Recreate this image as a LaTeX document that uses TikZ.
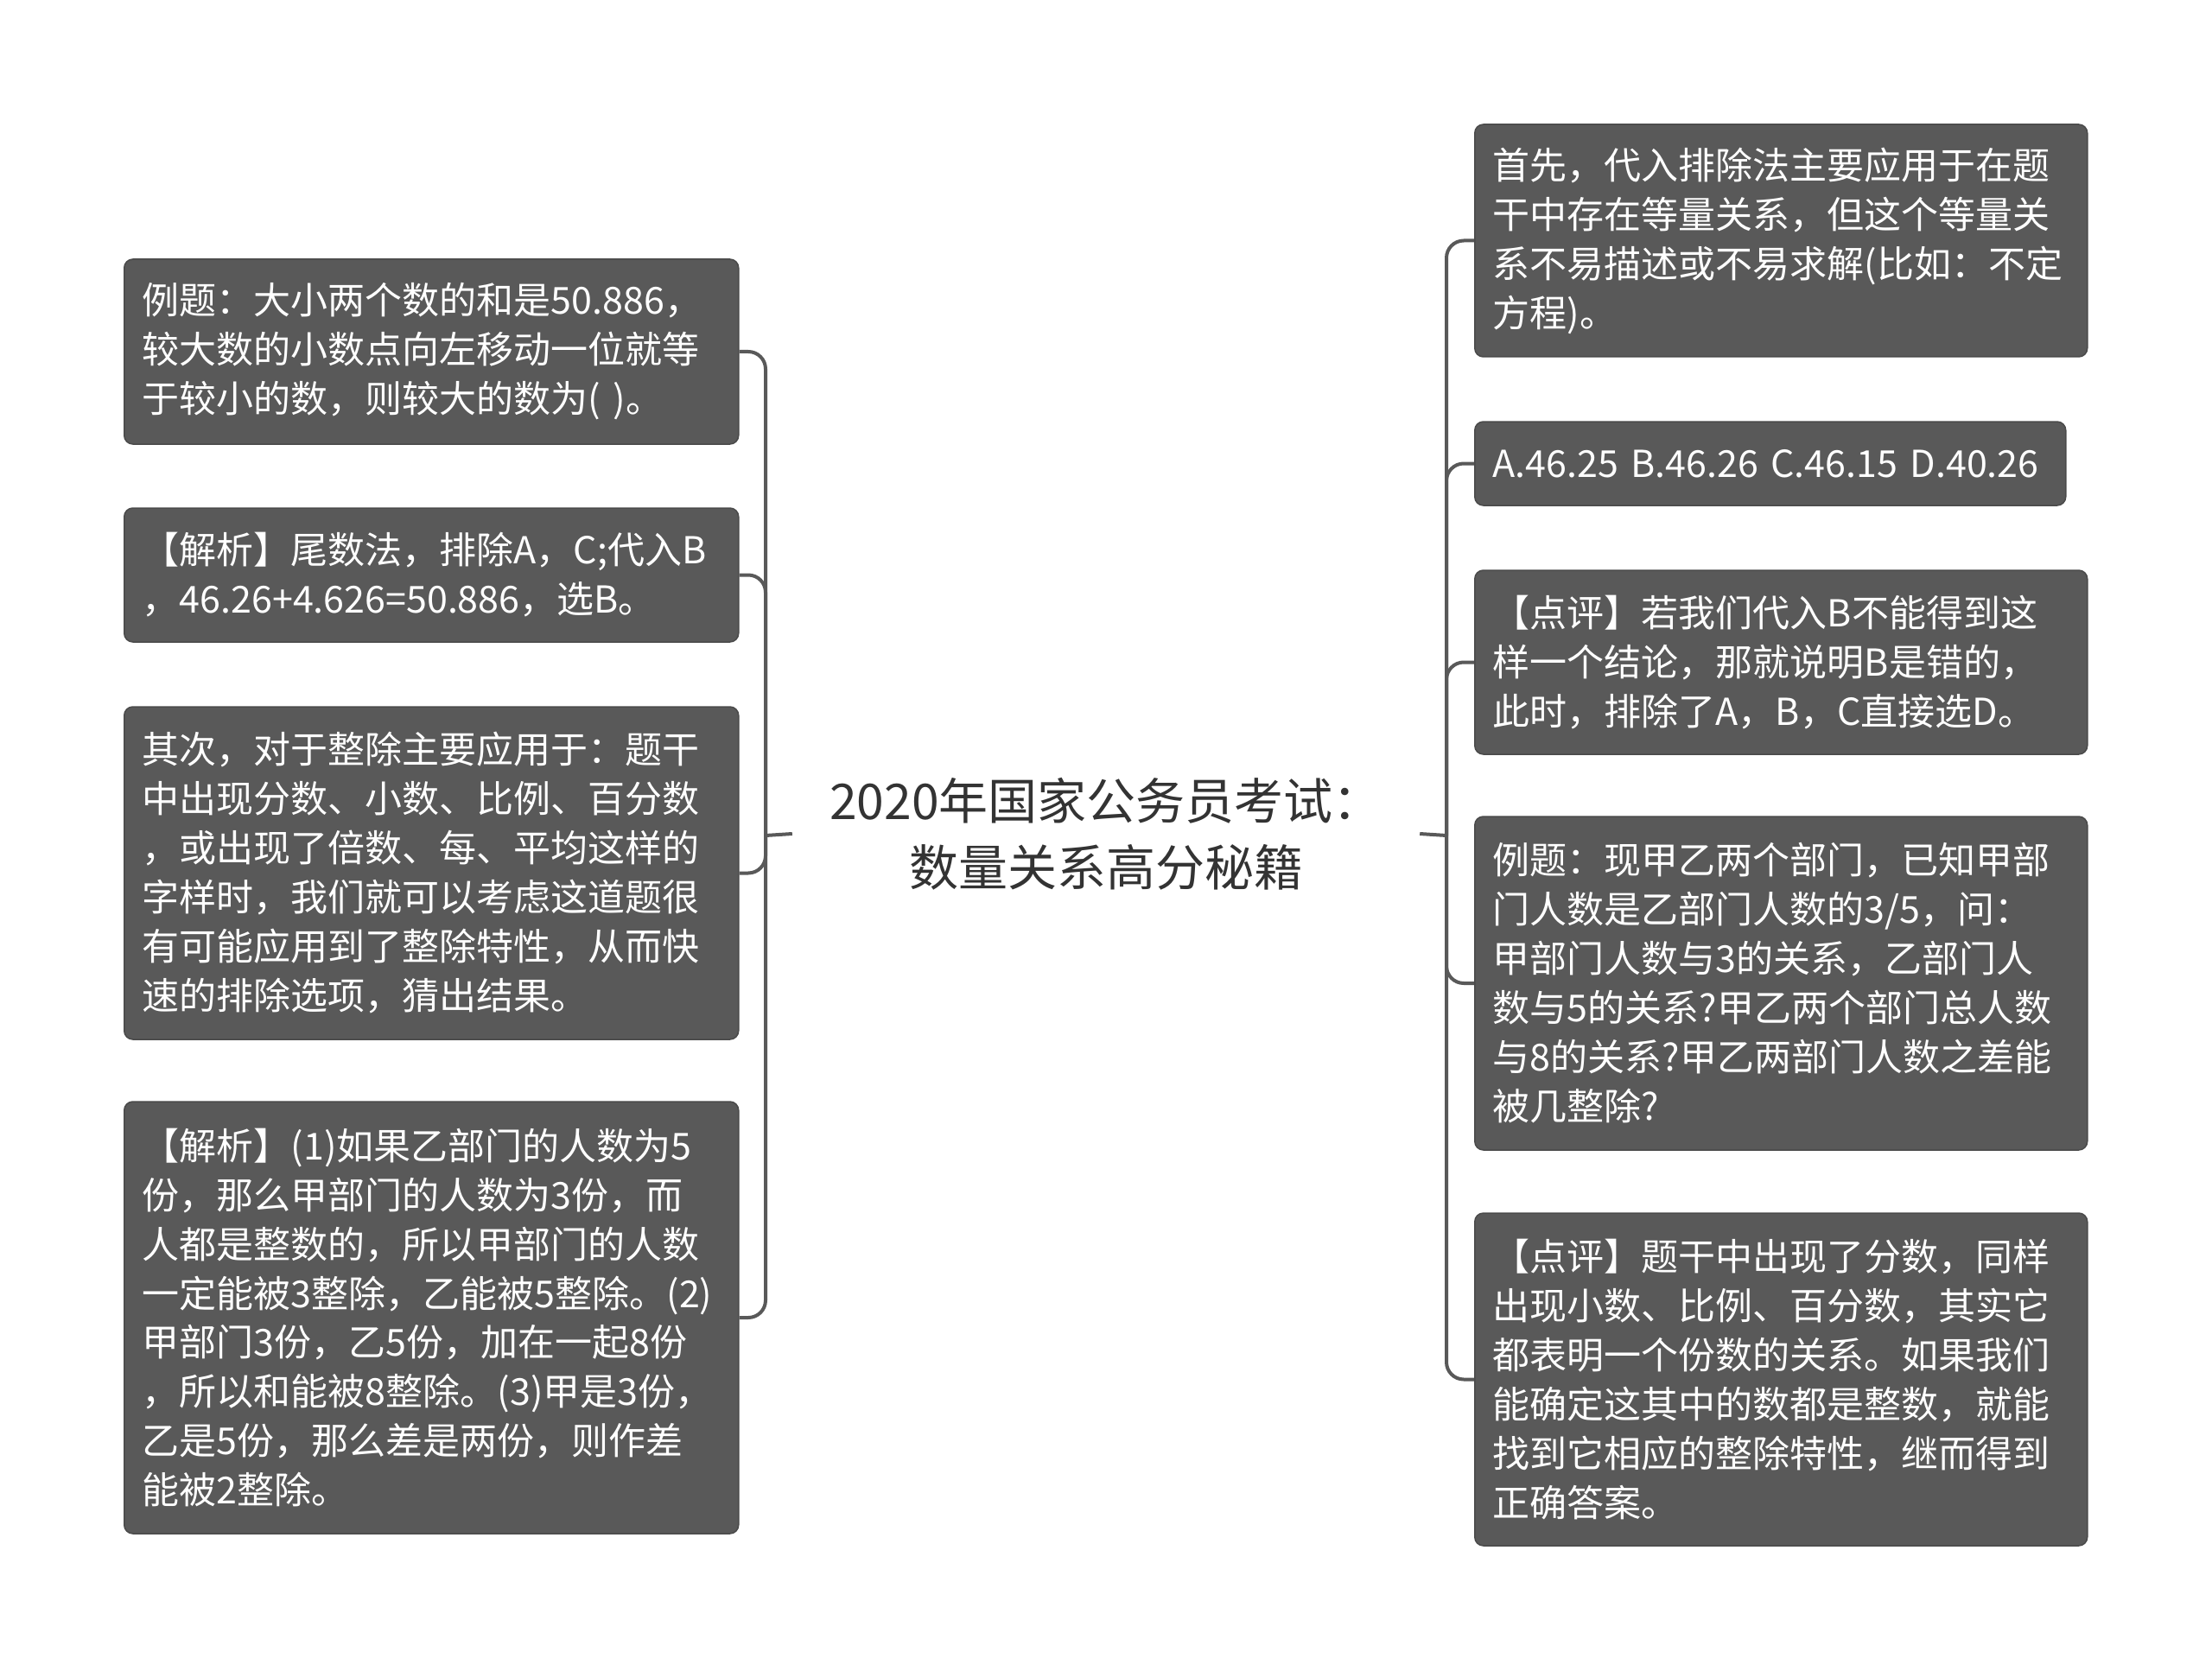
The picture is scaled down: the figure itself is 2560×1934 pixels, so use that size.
\documentclass[tikz,border=0pt]{standalone}
\usepackage{fontspec}
\setmainfont{Noto Sans CJK SC}
\definecolor{boxfill}{HTML}{595959}
\definecolor{boxedge}{HTML}{4A4A4A}
\definecolor{connc}{HTML}{595959}
\definecolor{titlec}{HTML}{333333}
\begin{document}
\begin{tikzpicture}[x=1pt,y=-1pt,
  leaf/.style={fill=boxfill, draw=boxedge, line width=1.5pt, rounded corners=10pt,
    text=white, align=left, inner xsep=21pt, inner ysep=0pt,
    font=\fontsize{43}{57}\selectfont, anchor=west},
  conn/.style={draw=connc, line width=4pt, rounded corners=20pt},
  title/.style={text=titlec, align=center, font=\fontsize{57}{77}\selectfont,
    minimum width=726pt, inner sep=0pt}]
\useasboundingbox[fill=white] (0,0) rectangle (2560,1934);

% central topic
\node[title] (C) at (1280,965) {2020年国家公务员考试：\\数量关系高分秘籍};
\coordinate (LJ) at (886,967);
\coordinate (RJ) at (1674,967);

% left children
\node[leaf, text width=669pt, minimum height=214pt] (L1) at (143,407)
 {例题：大小两个数的和是50.886，\\较大数的小数点向左移动一位就等\\于较小的数，则较大的数为( )。};
\node[leaf, text width=669pt, minimum height=155pt] (L2) at (143,665.5)
 {【解析】尾数法，排除A，C;代入B\\，46.26+4.626=50.886，选B。};
\node[leaf, text width=669pt, minimum height=385pt] (L3) at (143,1010.5)
 {其次，对于整除主要应用于：题干\\中出现分数、小数、比例、百分数\\，或出现了倍数、每、平均这样的\\字样时，我们就可以考虑这道题很\\有可能应用到了整除特性，从而快\\速的排除选项，猜出结果。};
\node[leaf, text width=669pt, minimum height=500pt] (L4) at (143,1525)
 {【解析】(1)如果乙部门的人数为5\\份，那么甲部门的人数为3份，而\\人都是整数的，所以甲部门的人数\\一定能被3整除，乙能被5整除。(2)\\甲部门3份，乙5份，加在一起8份\\，所以和能被8整除。(3)甲是3份，\\乙是5份，那么差是两份，则作差\\能被2整除。};

% right children
\node[leaf, text width=667pt, minimum height=269pt] (R1) at (1706,278.5)
 {首先，代入排除法主要应用于在题\\干中存在等量关系，但这个等量关\\系不易描述或不易求解(比如：不定\\方程)。};
\node[leaf, text width=642pt, minimum height=97pt] (R2) at (1706,536.5)
 {A.46.25 B.46.26 C.46.15 D.40.26};
\node[leaf, text width=667pt, minimum height=213pt] (R3) at (1706,766.5)
 {【点评】若我们代入B不能得到这\\样一个结论，那就说明B是错的，\\此时，排除了A，B，C直接选D。};
\node[leaf, text width=667pt, minimum height=386pt] (R4) at (1706,1138)
 {例题：现甲乙两个部门，已知甲部\\门人数是乙部门人数的3/5，问：\\甲部门人数与3的关系，乙部门人\\数与5的关系?甲乙两个部门总人数\\与8的关系?甲乙两部门人数之差能\\被几整除?};
\node[leaf, text width=667pt, minimum height=385pt] (R5) at (1706,1596.5)
 {【点评】题干中出现了分数，同样\\出现小数、比例、百分数，其实它\\都表明一个份数的关系。如果我们\\能确定这其中的数都是整数，就能\\找到它相应的整除特性，继而得到\\正确答案。};

% connectors
\draw[conn] (C.west) -- (LJ);
\draw[conn] (C.east) -- (RJ);
\foreach \n in {L1,L2,L3,L4} \draw[conn] (LJ) |- (\n.east);
\foreach \n in {R1,R2,R3,R4,R5} \draw[conn] (RJ) |- (\n.west);
\end{tikzpicture}
\end{document}
